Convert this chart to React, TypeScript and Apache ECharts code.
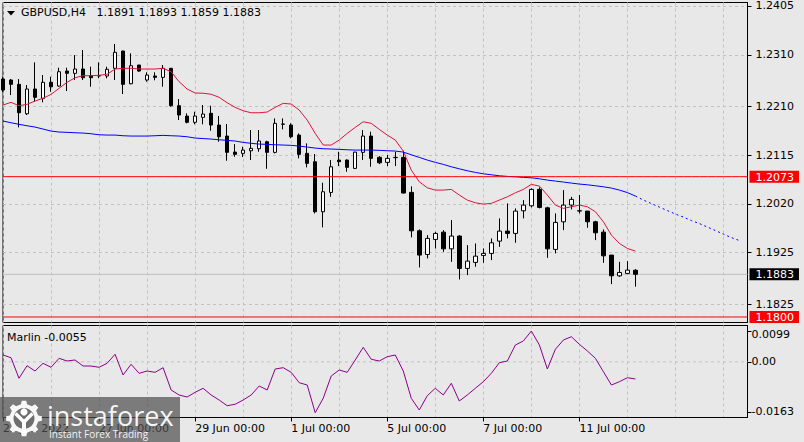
import React, { useEffect, useRef } from 'react';
import * as echarts from 'echarts';

// ---------- categories (H4 bars) ----------
const days = ['23 Jun', '24 Jun', '27 Jun', '28 Jun', '29 Jun', '30 Jun', '1 Jul', '4 Jul', '5 Jul', '6 Jul', '7 Jul', '8 Jul', '11 Jul', '12 Jul', '13 Jul', '14 Jul'];
const hours = ['00:00', '04:00', '08:00', '12:00', '16:00', '20:00'];
const SLOTS = 94;
const categories = days.flatMap((d) => hours.map((h) => `${d} ${h}`)).slice(0, SLOTS);

const timeLabelIndex = [0, 12, 24, 36, 48, 60, 72];
const timeLabels = ['23 Jun 2022', '27 Jun 00:00', '29 Jun 00:00', '1 Jul 00:00', '5 Jul 00:00', '7 Jul 00:00', '11 Jul 00:00'];

// ---------- GBPUSD H4 candles ----------
const opens = [
  1.22629, 1.22610, 1.22526, 1.21954, 1.22435, 1.22254, 1.22565, 1.22493, 1.22785, 1.22740,
  1.22824, 1.22694, 1.22694, 1.22688, 1.22838, 1.23174, 1.22538, 1.22902, 1.22610, 1.22688,
  1.22662, 1.22838, 1.22110, 1.21909, 1.21787, 1.21884, 1.21962, 1.21734, 1.21520, 1.21208,
  1.21183, 1.21234, 1.21273, 1.21409, 1.21203, 1.21753, 1.21734, 1.21539, 1.21183, 1.21020,
  1.20047, 1.20424, 1.21053, 1.21053, 1.20891, 1.21203, 1.21520, 1.21105, 1.21008, 1.21105,
  1.21105, 1.20424, 1.19677, 1.19217, 1.19509, 1.19651, 1.19326, 1.19574, 1.18945, 1.19062,
  1.19198, 1.19237, 1.19476, 1.19671, 1.19626, 1.20066, 1.20163, 1.20482, 1.20124, 1.19315,
  1.19852, 1.20177, 1.20066, 1.20060, 1.19852, 1.19651, 1.19204, 1.18801, 1.18848, 1.18910,
];
const closes = [
  1.22415, 1.22526, 1.21973, 1.22435, 1.22273, 1.22565, 1.22479, 1.22771, 1.22740, 1.22824,
  1.22655, 1.22655, 1.22690, 1.22818, 1.23149, 1.22526, 1.22888, 1.22785, 1.22707, 1.22662,
  1.22838, 1.22110, 1.21929, 1.21787, 1.21909, 1.21948, 1.21734, 1.21506, 1.21203, 1.21164,
  1.21247, 1.21280, 1.21423, 1.21203, 1.21767, 1.21750, 1.21506, 1.21164, 1.20989, 1.20047,
  1.20436, 1.20922, 1.21020, 1.20911, 1.21208, 1.21520, 1.21086, 1.21000, 1.21086, 1.21100,
  1.20411, 1.19677, 1.19204, 1.19529, 1.19626, 1.19326, 1.19574, 1.18945, 1.19087, 1.19184,
  1.19237, 1.19443, 1.19671, 1.19626, 1.20060, 1.20177, 1.20482, 1.20132, 1.19326, 1.19840,
  1.20177, 1.20288, 1.20062, 1.19852, 1.19638, 1.19190, 1.18801, 1.18867, 1.18912, 1.18830,
];
const lows = [
  1.22376, 1.22318, 1.21689, 1.21929, 1.22187, 1.22176, 1.22382, 1.22479, 1.22396, 1.22610,
  1.22610, 1.22479, 1.22643, 1.22643, 1.22610, 1.22337, 1.22526, 1.22771, 1.22577, 1.22604,
  1.22479, 1.22090, 1.21831, 1.21767, 1.21748, 1.21748, 1.21623, 1.21409, 1.21039, 1.21117,
  1.21111, 1.21053, 1.21214, 1.20883, 1.21183, 1.21650, 1.21475, 1.21086, 1.20911, 1.20015,
  1.19743, 1.20338, 1.20936, 1.20825, 1.20878, 1.21053, 1.20922, 1.20975, 1.20936, 1.20936,
  1.20405, 1.19548, 1.18964, 1.19140, 1.19334, 1.19268, 1.19073, 1.18731, 1.18815, 1.18976,
  1.19054, 1.19106, 1.19365, 1.19529, 1.19443, 1.19918, 1.20132, 1.20113, 1.19151, 1.19237,
  1.19690, 1.20093, 1.20015, 1.19735, 1.19496, 1.19054, 1.18639, 1.18781, 1.18834, 1.18590,
];
const highs = [
  1.22668, 1.22629, 1.22629, 1.22512, 1.22954, 1.22707, 1.22674, 1.22849, 1.22849, 1.23096,
  1.23194, 1.22869, 1.22954, 1.22869, 1.23310, 1.23180, 1.23129, 1.22902, 1.22760, 1.22760,
  1.22902, 1.22838, 1.22240, 1.21962, 1.21993, 1.22123, 1.22110, 1.21909, 1.21753, 1.21364,
  1.21312, 1.21637, 1.21637, 1.21428, 1.21864, 1.21864, 1.21767, 1.21572, 1.21378, 1.21170,
  1.20611, 1.21053, 1.21214, 1.21066, 1.21214, 1.21637, 1.21604, 1.21131, 1.21150, 1.21214,
  1.21234, 1.20541, 1.19704, 1.19593, 1.19657, 1.19690, 1.19885, 1.19593, 1.19398, 1.19431,
  1.19334, 1.19529, 1.19918, 1.20210, 1.20113, 1.20274, 1.20502, 1.20521, 1.20144, 1.20015,
  1.20469, 1.20338, 1.20372, 1.20060, 1.19871, 1.19704, 1.19204, 1.19073, 1.19087, 1.18930,
];

// ---------- moving averages ----------
const redMA = [
  1.22123, 1.22176, 1.22110, 1.22137, 1.22201, 1.22254, 1.22331, 1.22448, 1.22565, 1.22655,
  1.22694, 1.22694, 1.22701, 1.22721, 1.22824, 1.22838, 1.22838, 1.22824, 1.22824, 1.22824,
  1.22838, 1.22771, 1.22577, 1.22435, 1.22357, 1.22353, 1.22333, 1.22273, 1.22168, 1.22078,
  1.22012, 1.21973, 1.21973, 1.21987, 1.22078, 1.22156, 1.22143, 1.22026, 1.21831, 1.21572,
  1.21345, 1.21345, 1.21442, 1.21572, 1.21689, 1.21798, 1.21767, 1.21650, 1.21539, 1.21442,
  1.21228, 1.20858, 1.20630, 1.20514, 1.20469, 1.20469, 1.20482, 1.20372, 1.20274, 1.20222,
  1.20196, 1.20210, 1.20274, 1.20338, 1.20416, 1.20482, 1.20580, 1.20547, 1.20372, 1.20177,
  1.20113, 1.20144, 1.20177, 1.20144, 1.20047, 1.19852, 1.19593, 1.19431, 1.19334, 1.19282,
];
const blueMA = [
  1.21812, 1.21779, 1.21748, 1.21720, 1.21695, 1.21656, 1.21617, 1.21598, 1.21592, 1.21584,
  1.21578, 1.21565, 1.21545, 1.21539, 1.21539, 1.21526, 1.21520, 1.21520, 1.21520, 1.21526,
  1.21533, 1.21526, 1.21520, 1.21506, 1.21481, 1.21471, 1.21461, 1.21448, 1.21436, 1.21423,
  1.21397, 1.21378, 1.21364, 1.21358, 1.21351, 1.21345, 1.21339, 1.21325, 1.21306, 1.21286,
  1.21273, 1.21267, 1.21261, 1.21253, 1.21247, 1.21247, 1.21247, 1.21242, 1.21234, 1.21228,
  1.21208, 1.21156, 1.21105, 1.21053, 1.21008, 1.20969, 1.20922, 1.20883, 1.20845, 1.20813,
  1.20786, 1.20767, 1.20747, 1.20735, 1.20728, 1.20716, 1.20708, 1.20689, 1.20663, 1.20644,
  1.20625, 1.20605, 1.20586, 1.20572, 1.20553, 1.20533, 1.20508, 1.20469, 1.20420, 1.20352,
];
const blueProjectionStart = 79;
const blueProjection = [1.20352, 1.20274, 1.20206, 1.20138, 1.20070, 1.20002, 1.19943, 1.19875, 1.19817, 1.19749, 1.19681, 1.19612, 1.19544, 1.19486];

// ---------- Marlin oscillator ----------
const marlin = [
  0.00220, 0.00134, -0.00527, -0.00123, -0.00293, -0.00046, -0.00174, 0.00114, 0.00028, 0.00060,
  -0.00133, -0.00133, -0.00174, -0.00046, 0.00243, -0.00421, -0.00078, -0.00367, -0.00293, -0.00335,
  -0.00187, -0.00902, -0.01063, -0.01127, -0.00976, -0.00848, -0.01063, -0.01223, -0.01406, -0.01361,
  -0.01223, -0.01063, -0.00774, -0.00902, -0.00229, -0.00187, -0.00335, -0.00668, -0.00742, -0.01630,
  -0.01168, -0.00453, -0.00261, -0.00335, 0.00060, 0.00467, 0.00082, 0.00028, 0.00166, 0.00220,
  -0.00293, -0.01168, -0.01544, -0.01085, -0.00848, -0.01063, -0.00687, -0.01255, -0.01063, -0.00848,
  -0.00636, -0.00367, -0.00027, 0.00028, 0.00541, 0.00669, 0.00990, 0.00541, -0.00229, 0.00403,
  0.00701, 0.00807, 0.00563, 0.00349, 0.00114, -0.00315, -0.00742, -0.00636, -0.00508, -0.00550,
];

// ---------- axis ticks & levels ----------
const priceTicks = [1.2405, 1.2310, 1.2210, 1.2115, 1.2020, 1.1925, 1.1825];
const redLevels = [1.2073, 1.1800];
const bidLevel = 1.1883;
const marlinTicks = [-0.0163, 0, 0.0099];
const marlinTickLabels = ['-0.0163', '0.00', '0.0099'];
const marlinZero = 0;

const titleText = 'GBPUSD,H4   1.1891 1.1893 1.1859 1.1883';
const marlinText = 'Marlin -0.0055';

const FONT = '"DejaVu Sans", Verdana, sans-serif';
const BG = '#e8e8e8';
const DASH = '#c2c2c2';

function gearPoints(cx: number, cy: number, rOut: number, rIn: number, teeth: number) {
  const pts: number[][] = [];
  const s = (Math.PI * 2) / teeth;
  for (let k = 0; k < teeth; k++) {
    const a = k * s;
    [[-0.27, rIn], [-0.16, rOut], [0.16, rOut], [0.27, rIn]].forEach(([f, r]) => {
      pts.push([cx + r * Math.cos(a + f * s), cy + r * Math.sin(a + f * s)]);
    });
  }
  return pts;
}

export default function App() {
  const ref = useRef<HTMLDivElement>(null);

  useEffect(() => {
    const el = ref.current;
    if (!el) return;
    const chart = echarts.init(el, null, { renderer: 'svg' });

    const candleData = opens.map((o, i) => [o, closes[i], lows[i], highs[i]]);
    const projData = categories.map((_, i) =>
      i >= blueProjectionStart && i < blueProjectionStart + blueProjection.length ? blueProjection[i - blueProjectionStart] : null
    );
    const flat = (v: number) => categories.map(() => v);
    const near = (a: number, b: number) => Math.abs(a - b) < 1e-7;
    const isDay = (i: number) => i % 6 === 0;

    const levelSeries = (name: string, v: number, color: string, type: any, xi: number, z: number) => ({
      type: 'line', name, xAxisIndex: xi, yAxisIndex: xi, data: flat(v), symbol: 'none', showSymbol: false, z,
      lineStyle: { color, width: 1, type }, emphasis: { disabled: true }, silent: true,
    });

    const option: any = {
      animation: false,
      backgroundColor: BG,
      textStyle: { fontFamily: FONT, fontSize: 11, color: '#000' },
      grid: [
        { left: 3, top: 2.5, width: 744.5, height: 320, show: true, backgroundColor: BG, borderColor: '#000', borderWidth: 1, containLabel: false, outerBoundsMode: 'none' },
        { left: 3, top: 325.5, width: 744.5, height: 92, show: true, backgroundColor: BG, borderColor: '#000', borderWidth: 1, containLabel: false, outerBoundsMode: 'none' },
      ],
      xAxis: [
        {
          type: 'category', gridIndex: 0, data: categories, boundaryGap: false,
          axisLine: { show: false }, axisTick: { show: false }, axisLabel: { show: false },
          splitLine: { show: true, interval: (i: number) => isDay(i), lineStyle: { color: DASH, type: [3, 3], width: 1 } },
        },
        {
          type: 'category', gridIndex: 1, data: categories, boundaryGap: false,
          axisLine: { show: true, onZero: false, lineStyle: { color: '#000', width: 1 } },
          axisTick: { show: true, length: 4, interval: (i: number) => timeLabelIndex.includes(i), lineStyle: { color: '#000' } },
          axisLabel: {
            show: true, interval: (i: number) => timeLabelIndex.includes(i), align: 'left', margin: 5,
            fontFamily: FONT, fontSize: 11, color: '#000', hideOverlap: false,
            formatter: (_v: string, i: number) => {
              const k = timeLabelIndex.indexOf(i);
              return k >= 0 ? timeLabels[k] : '';
            },
          },
          splitLine: { show: true, interval: (i: number) => isDay(i), lineStyle: { color: DASH, type: [3, 3], width: 1 } },
        },
      ],
      yAxis: [
        {
          type: 'value', gridIndex: 0, position: 'right', min: 1.17893, max: 1.24118,
          axisLine: { show: true, onZero: false, lineStyle: { color: '#000', width: 1 } },
          axisTick: { show: true, length: 4, customValues: priceTicks, lineStyle: { color: '#000' } },
          axisLabel: {
            show: true, margin: 2, hideOverlap: false,
            customValues: [...priceTicks, ...redLevels, bidLevel],
            formatter: (v: number) => {
              const t = v.toFixed(4);
              if (redLevels.some((r) => near(r, v))) return `{r|${t}}`;
              if (near(bidLevel, v)) return `{k|${t}}`;
              return `{n|${t}}`;
            },
            rich: {
              n: { fontFamily: FONT, fontSize: 11, color: '#000', padding: [0, 0, 0, 6] },
              r: { fontFamily: FONT, fontSize: 11, color: '#fff', backgroundColor: '#ff0000', padding: [1, 5, 0, 6] },
              k: { fontFamily: FONT, fontSize: 11, color: '#fff', backgroundColor: '#000', padding: [1, 5, 0, 6] },
            },
          },
          splitLine: { show: true, lineStyle: { color: DASH, type: [3, 3], width: 1 } },
        },
        {
          type: 'value', gridIndex: 1, position: 'right', min: -0.017842, max: 0.011664,
          axisLine: { show: true, onZero: false, lineStyle: { color: '#000', width: 1 } },
          axisTick: { show: true, length: 4, customValues: marlinTicks, lineStyle: { color: '#000' } },
          axisLabel: {
            show: true, margin: 4, hideOverlap: false, customValues: marlinTicks,
            formatter: (v: number) => {
              const k = marlinTicks.findIndex((m) => near(m, v));
              const txt = k >= 0 ? marlinTickLabels[k] : '';
              if (k === 2) return `{t|${txt}}`;
              if (k === 0) return `{b|${txt}}`;
              return `{m|${txt}}`;
            },
            rich: {
              t: { fontFamily: FONT, fontSize: 11, color: '#000', padding: [7, 0, 0, 0] },
              b: { fontFamily: FONT, fontSize: 11, color: '#000', padding: [0, 0, 3, 0] },
              m: { fontFamily: FONT, fontSize: 11, color: '#000' },
            },
          },
          splitLine: { show: false },
        },
      ],
      series: [
        levelSeries('bid', bidLevel, '#c0c0c0', 'solid', 0, 1),
        {
          type: 'candlestick', name: 'GBPUSD', xAxisIndex: 0, yAxisIndex: 0, data: candleData, barWidth: 4, z: 2,
          itemStyle: { color: '#ffffff', color0: '#000000', borderColor: '#000000', borderColor0: '#000000', borderColorDoji: '#000000', borderWidth: 1 },
          emphasis: { disabled: true },
        },
        {
          type: 'line', name: 'MA fast', xAxisIndex: 0, yAxisIndex: 0, data: redMA, symbol: 'none', showSymbol: false, z: 3,
          lineStyle: { color: '#dc143c', width: 1 }, emphasis: { disabled: true },
        },
        {
          type: 'line', name: 'MA slow', xAxisIndex: 0, yAxisIndex: 0, data: blueMA, symbol: 'none', showSymbol: false, z: 3,
          lineStyle: { color: '#0000ff', width: 1 }, emphasis: { disabled: true },
        },
        {
          type: 'line', name: 'MA slow shift', xAxisIndex: 0, yAxisIndex: 0, data: projData, symbol: 'none', showSymbol: false, z: 3,
          lineStyle: { color: '#0000ff', width: 1, type: [2, 3] }, emphasis: { disabled: true },
        },
        levelSeries('level 1', redLevels[0], '#ff0000', 'solid', 0, 4),
        levelSeries('level 2', redLevels[1], '#ff0000', 'solid', 0, 4),
        levelSeries('zero', marlinZero, DASH, [3, 3], 1, 1),
        {
          type: 'line', name: 'Marlin', xAxisIndex: 1, yAxisIndex: 1, data: marlin, symbol: 'none', showSymbol: false, z: 3,
          lineStyle: { color: '#8b008b', width: 1 }, emphasis: { disabled: true },
        },
      ],
      graphic: [
        { type: 'polygon', z: 100, shape: { points: [[7, 11], [15, 11], [11, 15.5]] }, style: { fill: '#000' } },
        { type: 'text', z: 100, x: 21, y: 12.5, style: { text: titleText, fill: '#000', font: `11px ${FONT}`, verticalAlign: 'middle', align: 'left' } },
        { type: 'text', z: 100, x: 7, y: 337, style: { text: marlinText, fill: '#000', font: `11px ${FONT}`, verticalAlign: 'middle', align: 'left' } },
        {
          type: 'group', z: 100,
          children: [
            { type: 'rect', z: 100, shape: { x: 0, y: 397, width: 180, height: 45 }, style: { fill: 'rgba(80,80,80,0.72)' } },
            { type: 'polygon', z: 101, shape: { points: gearPoints(24, 418.5, 18, 14.5, 8) }, style: { fill: 'rgba(255,255,255,0.95)' } },
            { type: 'circle', z: 102, shape: { cx: 24, cy: 418.5, r: 10.5 }, style: { fill: '#6e6e6e' } },
            { type: 'circle', z: 103, shape: { cx: 24, cy: 412, r: 3.6 }, style: { fill: '#ffffff' } },
            { type: 'polyline', z: 103, shape: { points: [[15.5, 413.5], [24, 422], [32.5, 413.5]] }, style: { stroke: '#ffffff', lineWidth: 3.5, fill: 'none' } },
            { type: 'rect', z: 103, shape: { x: 22, y: 419, width: 4, height: 14 }, style: { fill: '#ffffff' } },
            { type: 'text', z: 103, x: 47, y: 415.5, style: { text: 'instaforex', fill: 'rgba(255,255,255,0.95)', font: '27px "Open Sans", sans-serif', verticalAlign: 'middle', align: 'left' } },
            { type: 'text', z: 103, x: 49, y: 433.5, style: { text: 'Instant Forex Trading', fill: 'rgba(255,255,255,0.92)', font: '10px "Open Sans", sans-serif', verticalAlign: 'middle', align: 'left' } },
          ],
        },
      ],
    };

    chart.setOption(option);
    return () => chart.dispose();
  }, []);

  return <div ref={ref} style={{ position: 'absolute', left: 0, top: 0, width: 804, height: 442 }} />;
}
